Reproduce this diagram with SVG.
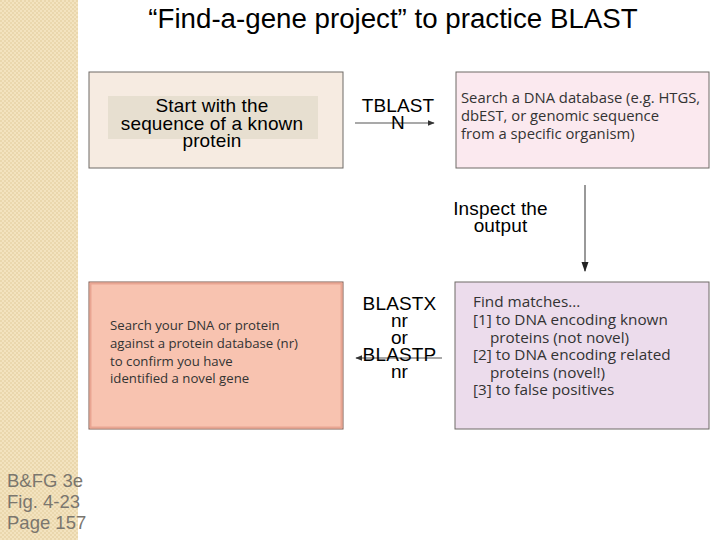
<svg xmlns="http://www.w3.org/2000/svg" width="720" height="540" viewBox="0 0 720 540">
<defs>
<pattern id="chk" width="4" height="4" patternUnits="userSpaceOnUse">
<rect width="4" height="4" fill="#f3e3bf"/>
<rect width="2" height="2" fill="#ead7ad"/>
<rect x="2" y="2" width="2" height="2" fill="#ead7ad"/>
</pattern>
<marker id="ah" viewBox="0 0 10 10" refX="9" refY="5" markerWidth="7" markerHeight="7" orient="auto" markerUnits="userSpaceOnUse">
<path d="M0,1 L10,5 L0,9 Z" fill="#333"/>
</marker>
<marker id="ah2" viewBox="0 0 10 10" refX="9" refY="5" markerWidth="10" markerHeight="10" orient="auto" markerUnits="userSpaceOnUse">
<path d="M0,1.5 L10,5 L0,8.5 Z" fill="#222"/>
</marker>
</defs>
<style>
.ar{font-family:"Liberation Sans",Arial,sans-serif;fill:#000;text-anchor:middle}
.lbl{font-size:19px;letter-spacing:0.15px}
.fig{font-family:"Open Sans","Liberation Sans",sans-serif;fill:#333}
.box{stroke:#6f6a66;stroke-width:1}
.con{stroke:#555;stroke-width:1.2;fill:none}
</style>
<rect x="0" y="0" width="720" height="540" fill="#fff"/>
<rect x="0" y="0" width="78" height="540" fill="url(#chk)"/>
<text x="393" y="28" class="ar" font-size="27.7">“Find-a-gene project” to practice BLAST</text>
<g font-family="Liberation Sans,Arial,sans-serif" font-size="18.5" fill="#7a766e">
<text x="7" y="487">B&amp;FG 3e</text>
<text x="7" y="508">Fig. 4-23</text>
<text x="7" y="529">Page 157</text>
</g>
<g id="connectors">
<line x1="355" y1="123" x2="434" y2="123" class="con" marker-end="url(#ah)"/>
<line x1="585" y1="185" x2="585" y2="271" class="con" marker-end="url(#ah2)"/>
<line x1="442" y1="358" x2="356" y2="358" class="con" marker-end="url(#ah)"/>
</g>
<g id="start">
<rect x="89" y="72" width="254" height="96" fill="#f6ebe1" class="box"/>
<rect x="108" y="96" width="210" height="43" fill="#e7dfd0"/>
<text class="ar lbl"><tspan x="212" y="112">Start with the</tspan><tspan x="212" y="130">sequence of a known</tspan><tspan x="212" y="147">protein</tspan></text>
</g>
<g id="tblastn-label">
<text class="ar lbl"><tspan x="398" y="112">TBLAST</tspan><tspan x="398" y="129">N</tspan></text>
</g>
<g id="search-dna">
<rect x="456" y="72" width="253" height="96" fill="#fbe9ef" class="box"/>
<text class="fig" font-size="14.8"><tspan x="461" y="103">Search a DNA database (e.g. HTGS,</tspan><tspan x="461" y="121">dbEST, or genomic sequence</tspan><tspan x="461" y="138.5">from a specific organism)</tspan></text>
</g>
<g id="inspect-label">
<text class="ar lbl"><tspan x="500.5" y="215">Inspect the</tspan><tspan x="500.5" y="232">output</tspan></text>
</g>
<g id="find-matches">
<rect x="455" y="282" width="254" height="147" fill="#ecdcec" class="box"/>
<text class="fig" font-size="15.3"><tspan x="473" y="307">Find matches...</tspan><tspan x="473" y="325">[1] to DNA encoding known</tspan><tspan x="490" y="342.5">proteins (not novel)</tspan><tspan x="473" y="360">[2] to DNA encoding related</tspan><tspan x="490" y="377.5">proteins (novel!)</tspan><tspan x="473" y="395">[3] to false positives</tspan></text>
</g>
<g id="blastx-label">
<text class="ar lbl"><tspan x="399.5" y="310">BLASTX</tspan><tspan x="399.5" y="327">nr</tspan><tspan x="399.5" y="344">or</tspan><tspan x="399.5" y="361">BLASTP</tspan><tspan x="399.5" y="378">nr</tspan></text>
</g>
<g id="search-protein">
<rect x="89" y="282" width="254" height="147" fill="#f8c3b0" stroke="#7a5a50" stroke-width="1"/>
<rect x="90.5" y="283.5" width="251" height="144" fill="none" stroke="#e9a592" stroke-width="2"/>
<text class="fig" font-size="13.2"><tspan x="110" y="330">Search your DNA or protein</tspan><tspan x="110" y="348">against a protein database (nr)</tspan><tspan x="110" y="366">to confirm you have</tspan><tspan x="110" y="383">identified a novel gene</tspan></text>
</g>
</svg>
